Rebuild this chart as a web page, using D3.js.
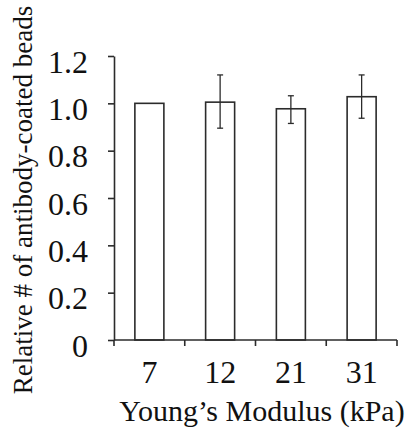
<!DOCTYPE html>
<html>
<head>
<meta charset="utf-8">
<script src="https://cdn.jsdelivr.net/npm/d3@7"></script>
<style>
  body { margin: 0; background: #fff; }
  svg { display: block; }
  svg text { font-family: "Liberation Serif", "DejaVu Serif", serif !important; fill: #111; }
</style>
</head>
<body>
<svg width="412" height="428"></svg>
<script>
// data
let categories = ["7", "12", "21", "31"];
let values = [1.0, 1.005, 0.977, 1.028];
let errLow = [null, 0.895, 0.915, 0.937];
let errHigh = [null, 1.12, 1.032, 1.12];
let yTicks = [0, 0.2, 0.4, 0.6, 0.8, 1.0, 1.2];
let yTickLabels = ["0", "0.2", "0.4", "0.6", "0.8", "1.0", "1.2"];

let svg = d3.select("svg");
let ink = "#2b2b2b";

let plotLeft = 114, plotRight = 397, plotTop = 56, plotBottom = 340;

let x = d3.scaleBand()
  .domain(categories)
  .range([plotLeft, plotRight])
  .paddingInner(0.59)
  .paddingOuter(0.295);

let y = d3.scaleLinear()
  .domain([0, 1.2])
  .range([plotBottom, plotTop]);

// bars
svg.selectAll(".bar")
  .data(values)
  .join("rect")
  .attr("class", "bar")
  .attr("x", (d, i) => x(categories[i]))
  .attr("y", d => y(d))
  .attr("width", x.bandwidth())
  .attr("height", d => y(0) - y(d))
  .attr("fill", "#fff")
  .attr("stroke", ink)
  .attr("stroke-width", 1.6);

// error bars
let errs = values.map((v, i) => ({ i: i, lo: errLow[i], hi: errHigh[i] })).filter(d => d.lo != null);
let eg = svg.selectAll(".err")
  .data(errs)
  .join("g")
  .attr("class", "err")
  .attr("stroke", ink)
  .attr("stroke-width", 1.3);
let cx = d => x(categories[d.i]) + x.bandwidth() / 2;
eg.append("line").attr("x1", cx).attr("x2", cx).attr("y1", d => y(d.hi)).attr("y2", d => y(d.lo));
eg.append("line").attr("x1", d => cx(d) - 3).attr("x2", d => cx(d) + 3).attr("y1", d => y(d.hi)).attr("y2", d => y(d.hi));
eg.append("line").attr("x1", d => cx(d) - 3).attr("x2", d => cx(d) + 3).attr("y1", d => y(d.lo)).attr("y2", d => y(d.lo));

// y axis
let yAxis = d3.axisLeft(y)
  .tickValues(yTicks)
  .tickFormat((d, i) => yTickLabels[i])
  .tickSizeInner(6)
  .tickSizeOuter(0)
  .tickPadding(20);
let gy = svg.append("g")
  .attr("transform", `translate(${plotLeft},0)`)
  .call(yAxis);
gy.select(".domain").attr("stroke", ink).attr("stroke-width", 1.6);
gy.selectAll(".tick line").attr("stroke", ink).attr("stroke-width", 1.6);
gy.selectAll(".tick text")
  .attr("font-size", 32)
  .attr("dy", "0.5em");

// x axis: ticks sit on band boundaries
let xBounds = d3.scaleLinear().domain([0, categories.length]).range([plotLeft, plotRight]);
svg.append("line")
  .attr("x1", plotLeft).attr("x2", plotRight)
  .attr("y1", plotBottom).attr("y2", plotBottom)
  .attr("stroke", ink).attr("stroke-width", 1.6);
svg.selectAll(".xtick")
  .data(d3.range(categories.length + 1))
  .join("line")
  .attr("class", "xtick")
  .attr("x1", d => xBounds(d)).attr("x2", d => xBounds(d))
  .attr("y1", plotBottom).attr("y2", plotBottom + 6)
  .attr("stroke", ink).attr("stroke-width", 1.6);
svg.selectAll(".xlabel")
  .data(categories)
  .join("text")
  .attr("class", "xlabel")
  .attr("x", d => x(d) + x.bandwidth() / 2)
  .attr("y", 383)
  .attr("text-anchor", "middle")
  .attr("font-size", 32)
  .text(d => d);

// axis titles
svg.append("text")
  .attr("x", 262)
  .attr("y", 421)
  .attr("text-anchor", "middle")
  .attr("font-size", 30)
  .text("Young\u2019s Modulus (kPa)");

svg.append("text")
  .attr("transform", "translate(32,200) rotate(-90)")
  .attr("text-anchor", "middle")
  .attr("font-size", 27)
  .text("Relative # of antibody-coated beads");
</script>
</body>
</html>
